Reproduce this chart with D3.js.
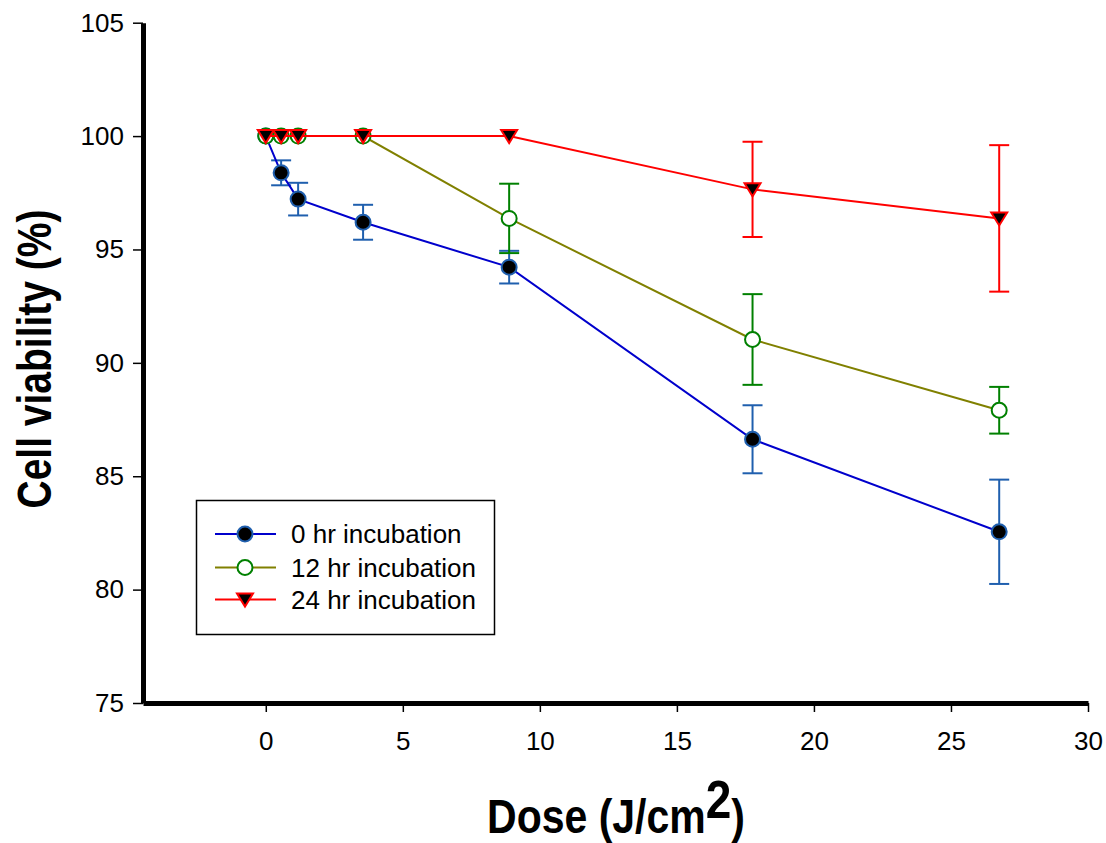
<!DOCTYPE html>
<html>
<head>
<meta charset="utf-8">
<script src="https://cdn.jsdelivr.net/npm/d3@7"></script>
<style>
  body { margin: 0; background: #fff; }
  text { font-family: "Liberation Sans", Arial, sans-serif; }
</style>
</head>
<body>
<div id="chart"></div>
<script>
// data
var doses = [0, 0.56, 1.18, 3.55, 8.88, 17.76, 26.76]
var hr0 = [100, 98.38, 97.22, 96.2, 94.22, 86.63, 82.55]
var err0 = [0, 0.55, 0.72, 0.77, 0.72, 1.5, 2.3]
var hr12 = [100, 100, 100, 100, 96.37, 91.03, 87.91]
var err12 = [0, 0, 0, 0, 1.53, 2.0, 1.03]
var hr24 = [100, 100, 100, 100, 100, 97.65, 96.37]
var err24 = [0, 0, 0, 0, 0, 2.1, 3.23]
var xTicks = [0, 5, 10, 15, 20, 25, 30]
var yTicks = [75, 80, 85, 90, 95, 100, 105]
var seriesNames = ["0 hr incubation", "12 hr incubation", "24 hr incubation"]

var width = 1106
var height = 843

var svg = d3.select("#chart")
	.append("svg")
	.attr("width", width)
	.attr("height", height)

var x = d3.scaleLinear().domain([-4.48, 30]).range([143, 1088])
var y = d3.scaleLinear().domain([75, 105]).range([703, 22.7])

// axes
var xAxis = svg.append("g")
	.attr("transform", "translate(0," + y(75) + ")")
	.call(d3.axisBottom(x).tickValues(xTicks).tickSize(9).tickPadding(20).tickSizeOuter(0))
xAxis.select(".domain").attr("stroke-width", 5)
xAxis.selectAll(".tick line").attr("stroke-width", 1.5)
xAxis.selectAll(".tick text").attr("font-size", 26).attr("fill", "#000")

var yAxis = svg.append("g")
	.attr("transform", "translate(" + x.range()[0] + ",0)")
	.call(d3.axisLeft(y).tickValues(yTicks).tickSize(10).tickPadding(9).tickSizeOuter(0))
yAxis.select(".domain").attr("stroke-width", 5)
yAxis.selectAll(".tick line").attr("stroke-width", 1.5)
yAxis.selectAll(".tick text").attr("font-size", 26).attr("fill", "#000")

// axis titles (glyphs are drawn a bit taller in the original)
var xt = svg.append("text")
	.attr("transform", "translate(616,833) scale(1,1.15)")
	.attr("text-anchor", "middle")
	.attr("font-size", 41)
	.attr("font-weight", "bold")
xt.append("tspan").text("Dose (J/cm")
xt.append("tspan").attr("dy", -13).attr("font-size", 46).text("2")
xt.append("tspan").attr("dy", 13).text(")")

svg.append("text")
	.attr("transform", "translate(51,359) rotate(-90) scale(1,1.25)")
	.attr("text-anchor", "middle")
	.attr("font-size", 39)
	.attr("font-weight", "bold")
	.text("Cell viability (%)")

var series = [
	{ values: hr0, errs: err0, line: "#0000cc", bar: "#1f5fae", shape: "circle", fill: "#000", stroke: "#1f5fae" },
	{ values: hr12, errs: err12, line: "#808000", bar: "#008000", shape: "circle", fill: "#fff", stroke: "#008000" },
	{ values: hr24, errs: err24, line: "#ff0000", bar: "#ff0000", shape: "tri", fill: "#000", stroke: "#ff0000" }
]

var line = d3.line()
	.x(function(d) { return x(d[0]) })
	.y(function(d) { return y(d[1]) })

function drawMarker(g, s, cx, cy) {
	if (s.shape == "circle") {
		g.append("circle")
			.attr("cx", cx).attr("cy", cy).attr("r", 7.5)
			.attr("fill", s.fill).attr("stroke", s.stroke).attr("stroke-width", 2)
	} else {
		g.append("path")
			.attr("d", "M" + (cx - 8) + "," + (cy - 6) + "L" + (cx + 8) + "," + (cy - 6) + "L" + cx + "," + (cy + 7) + "Z")
			.attr("fill", s.fill).attr("stroke", s.stroke).attr("stroke-width", 2)
	}
}

series.forEach(function(s) {
	var g = svg.append("g")
	var pts = doses.map(function(d, i) { return [d, s.values[i], s.errs[i]] })
	// error bars
	pts.forEach(function(p) {
		if (p[2] > 0) {
			var px = x(p[0])
			var top = y(p[1] + p[2]), bot = y(p[1] - p[2])
			g.append("line").attr("x1", px).attr("x2", px).attr("y1", top).attr("y2", bot)
				.attr("stroke", s.bar).attr("stroke-width", 2)
			g.append("line").attr("x1", px - 10).attr("x2", px + 10).attr("y1", top).attr("y2", top)
				.attr("stroke", s.bar).attr("stroke-width", 2)
			g.append("line").attr("x1", px - 10).attr("x2", px + 10).attr("y1", bot).attr("y2", bot)
				.attr("stroke", s.bar).attr("stroke-width", 2)
		}
	})
	g.append("path").datum(pts).attr("d", line)
		.attr("fill", "none").attr("stroke", s.line).attr("stroke-width", 2)
	pts.forEach(function(p) {
		drawMarker(g, s, x(p[0]), y(p[1]))
	})
})

// legend
var lg = svg.append("g")
lg.append("rect")
	.attr("x", 196.5).attr("y", 500.5).attr("width", 298).attr("height", 134)
	.attr("fill", "#fff").attr("stroke", "#000").attr("stroke-width", 1.5)
var rowY = [534, 567.5, 599.5]
series.forEach(function(s, i) {
	lg.append("line").attr("x1", 215).attr("x2", 276).attr("y1", rowY[i]).attr("y2", rowY[i])
		.attr("stroke", s.line).attr("stroke-width", 2)
	drawMarker(lg, s, 245, rowY[i])
	lg.append("text").attr("x", 291).attr("y", rowY[i]).attr("dy", "0.35em")
		.attr("font-size", 26).text(seriesNames[i])
})
</script>
</body>
</html>
